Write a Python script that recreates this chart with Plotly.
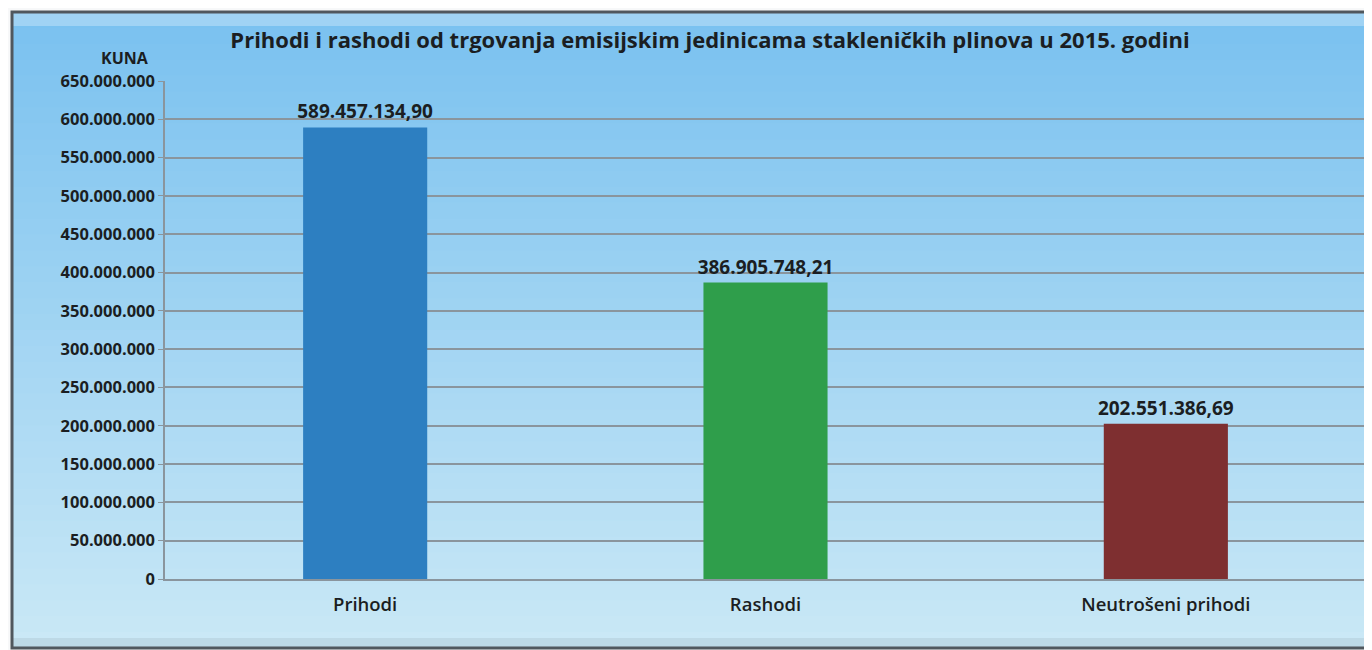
import plotly.graph_objects as go

# Podaci
kategorije = ["Prihodi", "Rashodi", "Neutrošeni prihodi"]
iznosi = [589457134.90, 386905748.21, 202551386.69]
oznake = ["589.457.134,90", "386.905.748,21", "202.551.386,69"]
boje = ["#2d7fc1", "#2f9e4b", "#7e2f30"]
tick_vals = list(range(0, 650000001, 50000000))
tick_text = ["0"] + [f"{v:,}".replace(",", ".") for v in tick_vals[1:]]

FONT = "'Open Sans', Lato, sans-serif"
TXT = "#1b1e22"

fig = go.Figure()
fig.add_trace(go.Bar(
    x=kategorije, y=iznosi, marker=dict(color=boje, line_width=0),
    width=0.31, text=oznake, textposition="outside", cliponaxis=False,
    constraintext="none",
    textfont=dict(family=FONT, size=19, color=TXT, weight="bold"),
))

# okvir s gradijentom (pozadina grafikona)
L = 157
PW, PH = 1364 - L - 6, 498
x0, x1 = (4 - L) / PW, (1362 - L) / PW
y0, y1 = -(640 - 571) / PH, (571 - 4) / PH
top = (122, 194, 240)
bot = (202, 232, 246)
n = 40
shapes = []
step = (y1 - y0) / n
for i in range(n):
    t = i / (n - 1)
    c = tuple(int(top[k] + (bot[k] - top[k]) * t) for k in range(3))
    ya = y1 - step * i
    yb = ya - step * 1.6
    shapes.append(dict(type="rect", xref="paper", yref="paper", x0=x0, x1=x1,
                       y0=max(yb, y0), y1=ya, fillcolor=f"rgb{c}", line_width=0, layer="below"))
# svijetli rub na vrhu
shapes.append(dict(type="rect", xref="paper", yref="paper", x0=x0, x1=x1,
                   y0=y1 - 14 / PH, y1=y1, fillcolor="rgba(185,222,246,0.6)",
                   line_width=0, layer="below"))
# tamniji rub na dnu
shapes.append(dict(type="rect", xref="paper", yref="paper", x0=x0, x1=x1,
                   y0=y0, y1=y0 + 10 / PH, fillcolor="rgba(150,170,185,0.25)",
                   line_width=0, layer="below"))
shapes.append(dict(type="rect", xref="paper", yref="paper", x0=x0, x1=x1, y0=y0, y1=y1,
                   fillcolor="rgba(0,0,0,0)", line=dict(color="#50575d", width=3), layer="below"))

fig.update_layout(
    width=1364, height=642,
    margin=dict(l=L, r=6, t=73, b=71),
    paper_bgcolor="#f7f8f9", plot_bgcolor="rgba(0,0,0,0)",
    shapes=shapes, showlegend=False, bargap=0.69,
    title=dict(text="Prihodi i rashodi od trgovanja emisijskim jedinicama stakleničkih plinova u 2015. godini",
               x=(702 - L) / PW, xref="paper", xanchor="center",
               y=1 - 32 / 642, yanchor="middle",
               font=dict(family=FONT, size=22, color=TXT, weight="bold")),
    annotations=[dict(text="KUNA", xref="paper", yref="paper", x=-0.012, y=(571 - 50) / PH,
                      xanchor="right", yanchor="middle", showarrow=False,
                      font=dict(family=FONT, size=16, color=TXT, weight="bold"))],
)
fig.update_yaxes(range=[0, 650000000], tickvals=tick_vals, ticktext=tick_text,
                 showgrid=True, gridcolor="#8a959d", gridwidth=1.5,
                 showline=True, linecolor="#8a959d", linewidth=1.5,
                 ticks="outside", ticklen=5, tickcolor="#8a959d",
                 tickfont=dict(family=FONT, size=16.5, color=TXT, weight="bold"),
                 zeroline=False)
fig.update_xaxes(showline=True, linecolor="#8a959d", linewidth=1.5,
                 tickfont=dict(family=FONT, size=18.5, color=TXT, weight=600),
                 ticklabelstandoff=8)

fig.write_html("out.html")
